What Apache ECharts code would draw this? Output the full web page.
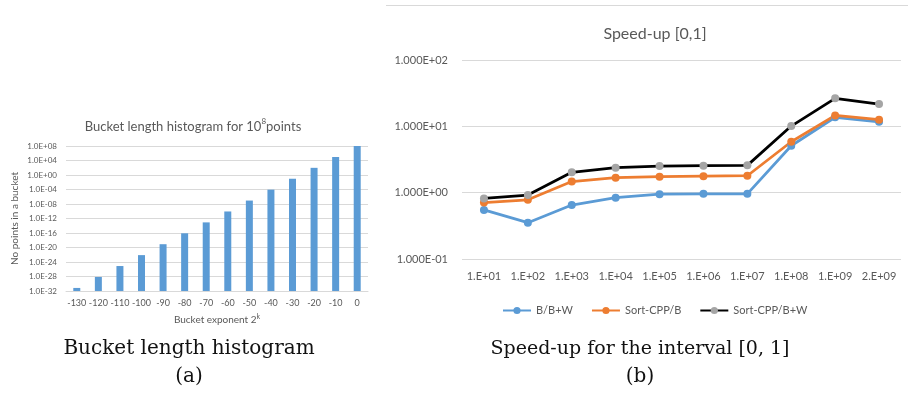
<!DOCTYPE html>
<html>
<head>
<meta charset="utf-8">
<script src="https://cdn.jsdelivr.net/npm/echarts@6/dist/echarts.min.js"></script>
<style>
html,body{margin:0;padding:0;background:#fff;}
#c{width:909px;height:395px;}
</style>
</head>
<body>
<div id="c"></div>
<script>
// Left chart: bucket length histogram (number of points per bucket)
const bucketExponents = ['-130','-120','-110','-100','-90','-80','-70','-60','-50','-40','-30','-20','-10','0'];
const bucketCounts = [7e-32, 7.5e-29, 7.7e-26, 7.9e-23, 8.1e-20, 8.3e-17, 8.5e-14, 8.7e-11, 8.9e-8, 9.1e-5, 9.3e-2, 95, 9.8e4, 1e8];
// Left y-axis tick exponents (labels 1.0E-32 ... 1.0E+08)
const bucketTickExps = [-32, -28, -24, -20, -16, -12, -8, -4, 0, 4, 8];

// Right chart: speed-up [0,1]
const sizes = ['1.E+01','1.E+02','1.E+03','1.E+04','1.E+05','1.E+06','1.E+07','1.E+08','1.E+09','2.E+09'];
const bOverBW = [0.55, 0.353, 0.65, 0.84, 0.95, 0.96, 0.96, 5.1, 13.7, 11.7];
const sortOverB = [0.71, 0.78, 1.47, 1.68, 1.74, 1.77, 1.80, 5.86, 14.6, 12.6];
const sortOverBW = [0.82, 0.92, 2.03, 2.38, 2.52, 2.55, 2.58, 10.1, 26.4, 21.7];

function expText(e, digits) {
  const a = Math.abs(Math.round(e));
  return '1.' + '0'.repeat(digits) + 'E' + (e >= 0 ? '+' : '-') + (a < 10 ? '0' + a : a);
}

const FONT = 'Lato, "Open Sans", sans-serif';
const GREY = '#595959';
const GRID = '#d9d9d9';

// ECharts' log scale cannot represent values below ~1e-20, so the left chart
// uses a linear axis over log10(count), labelled as powers of ten.
const bucketLog = bucketCounts.map(v => Math.log10(v));

const chart = echarts.init(document.getElementById('c'), null, {renderer: 'canvas'});
chart.setOption({
  animation: false,
  backgroundColor: '#fff',
  textStyle: {fontFamily: FONT},
  title: [
    {text: '{a|Bucket length histogram for 10}{s|8}{a|points}', left: 188, top: 112, textAlign: 'center',
     textStyle: {fontSize: 13, fontWeight: 'normal', color: GREY, fontFamily: FONT,
       rich: {a: {fontSize: 13, color: GREY, fontFamily: FONT, lineHeight: 16, verticalAlign: 'bottom'},
              s: {fontSize: 8, color: GREY, fontFamily: FONT, lineHeight: 16, verticalAlign: 'top'}}}},
    {text: 'Speed-up [0,1]', left: 650, top: 21, textAlign: 'center',
     textStyle: {fontSize: 16, fontWeight: 'normal', color: GREY, fontFamily: FONT}}
  ],
  grid: [
    {left: 66, width: 302, top: 146, height: 145},
    {left: 462, width: 439, top: 60, height: 199}
  ],
  legend: {
    data: ['B/B+W', 'Sort-CPP/B', 'Sort-CPP/B+W'],
    left: 497, top: 300, itemWidth: 28, itemHeight: 9, itemGap: 18,
    textStyle: {fontSize: 11, color: GREY, fontFamily: FONT}
  },
  xAxis: [
    {type: 'category', gridIndex: 0, data: bucketExponents,
     name: '{a|Bucket exponent 2}{s|k}', nameLocation: 'middle', nameGap: 22,
     nameTextStyle: {fontSize: 10, color: GREY, fontFamily: FONT,
       rich: {a: {fontSize: 10, color: GREY, fontFamily: FONT, lineHeight: 12, verticalAlign: 'bottom'},
              s: {fontSize: 7, color: GREY, fontFamily: FONT, lineHeight: 12, verticalAlign: 'top'}}},
     axisLine: {show: true, onZero: false, lineStyle: {color: GRID}}, axisTick: {show: false},
     axisLabel: {fontSize: 9, color: GREY, margin: 8, interval: 0, fontFamily: FONT}},
    {type: 'category', gridIndex: 1, data: sizes, boundaryGap: true,
     axisLine: {show: false, onZero: false}, axisTick: {show: false},
     axisLabel: {fontSize: 11, color: GREY, margin: 12, interval: 0, fontFamily: FONT}}
  ],
  yAxis: [
    {type: 'value', gridIndex: 0, min: bucketTickExps[0], max: bucketTickExps[bucketTickExps.length - 1],
     interval: bucketTickExps[1] - bucketTickExps[0], startValue: bucketTickExps[0],
     name: 'No points in a bucket', nameLocation: 'middle', nameGap: 46, nameRotate: 90,
     nameTextStyle: {fontSize: 10, color: GREY, fontFamily: FONT},
     axisLine: {show: false}, axisTick: {show: false},
     splitLine: {show: true, lineStyle: {color: GRID, width: 1}},
     axisLabel: {fontSize: 8, color: GREY, margin: 9, fontFamily: FONT, formatter: v => expText(v, 1)}},
    {type: 'log', gridIndex: 1, logBase: 10, min: 0.1, max: 100, interval: 1,
     axisLine: {show: false}, axisTick: {show: false},
     splitLine: {show: true, lineStyle: {color: GRID, width: 1}},
     axisLabel: {fontSize: 11, color: GREY, margin: 14, fontFamily: FONT,
       formatter: v => expText(Math.log10(v), 3)}}
  ],
  series: [
    {type: 'bar', xAxisIndex: 0, yAxisIndex: 0, data: bucketLog, barWidth: 7,
     itemStyle: {color: '#5B9BD5'}},
    {name: 'B/B+W', type: 'line', xAxisIndex: 1, yAxisIndex: 1, data: bOverBW,
     symbol: 'circle', symbolSize: 8, lineStyle: {color: '#5B9BD5', width: 2.75},
     itemStyle: {color: '#5B9BD5'}},
    {name: 'Sort-CPP/B', type: 'line', xAxisIndex: 1, yAxisIndex: 1, data: sortOverB,
     symbol: 'circle', symbolSize: 8, lineStyle: {color: '#ED7D31', width: 2.75},
     itemStyle: {color: '#ED7D31'}},
    {name: 'Sort-CPP/B+W', type: 'line', xAxisIndex: 1, yAxisIndex: 1, data: sortOverBW,
     symbol: 'circle', symbolSize: 8, lineStyle: {color: '#000000', width: 2.75},
     itemStyle: {color: '#A5A5A5'}, z: 3}
  ],
  graphic: [
    {type: 'line', shape: {x1: 386, y1: 5.5, x2: 908, y2: 5.5}, style: {stroke: GRID, lineWidth: 1}},
    {type: 'text', x: 189, y: 349, style: {text: 'Bucket length histogram', font: '20px "DejaVu Serif", serif',
      fill: '#111', textAlign: 'center', textVerticalAlign: 'middle'}},
    {type: 'text', x: 189, y: 377, style: {text: '(a)', font: '20px "DejaVu Serif", serif',
      fill: '#111', textAlign: 'center', textVerticalAlign: 'middle'}},
    {type: 'text', x: 640, y: 349, style: {text: 'Speed-up for the interval [0, 1]', font: '19px "DejaVu Serif", serif',
      fill: '#111', textAlign: 'center', textVerticalAlign: 'middle'}},
    {type: 'text', x: 640, y: 377, style: {text: '(b)', font: '20px "DejaVu Serif", serif',
      fill: '#111', textAlign: 'center', textVerticalAlign: 'middle'}}
  ]
});
</script>
</body>
</html>
